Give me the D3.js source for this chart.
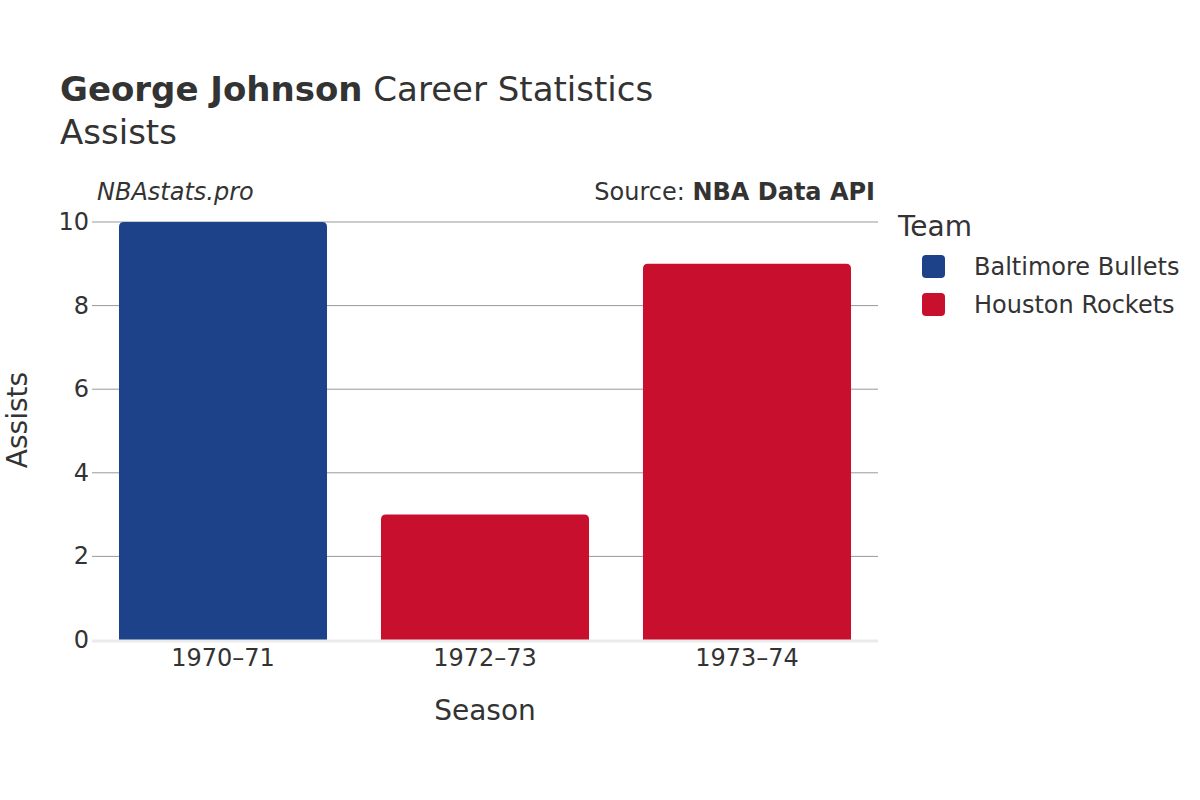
<!DOCTYPE html>
<html>
<head>
<meta charset="utf-8">
<script src="https://cdn.jsdelivr.net/npm/d3@7"></script>
<style>
  body { margin: 0; background: #fff; }
  svg { font-family: "DejaVu Sans", sans-serif; }
</style>
</head>
<body>
<svg id="chart" width="1200" height="800"></svg>
<script>
  // data
  var seasons = ["1970–71", "1972–73", "1973–74"];
  var assists = [10, 3, 9];
  var seasonTeams = ["Baltimore Bullets", "Houston Rockets", "Houston Rockets"];
  var teams = ["Baltimore Bullets", "Houston Rockets"];
  var teamColors = ["#1d428a", "#c8102e"];
  var yTicks = [0, 2, 4, 6, 8, 10];

  var svg = d3.select("#chart");
  var textColor = "#333";

  var margin = { left: 92, right: 878, top: 222, bottom: 640 };

  var x = d3.scaleBand()
    .domain(seasons)
    .range([margin.left, margin.right])
    .paddingInner(0.206)
    .paddingOuter(0.103);

  var y = d3.scaleLinear()
    .domain([0, 10])
    .range([margin.bottom, margin.top]);

  var color = d3.scaleOrdinal().domain(teams).range(teamColors);

  // gridlines
  svg.append("g")
    .selectAll("line")
    .data(yTicks.filter(function(d) { return d > 0; }))
    .enter()
    .append("line")
      .attr("x1", margin.left)
      .attr("x2", margin.right)
      .attr("y1", function(d) { return y(d); })
      .attr("y2", function(d) { return y(d); })
      .attr("stroke", "#999")
      .attr("stroke-width", 1);

  // bars with rounded tops
  function barPath(x0, w, yTop, yBot, r) {
    return "M" + x0 + "," + yBot +
      "V" + (yTop + r) +
      "Q" + x0 + "," + yTop + " " + (x0 + r) + "," + yTop +
      "H" + (x0 + w - r) +
      "Q" + (x0 + w) + "," + yTop + " " + (x0 + w) + "," + (yTop + r) +
      "V" + yBot + "Z";
  }

  svg.append("g")
    .selectAll("path")
    .data(seasons)
    .enter()
    .append("path")
      .attr("d", function(d, i) {
        return barPath(x(d), x.bandwidth(), y(assists[i]), y(0), 5);
      })
      .attr("fill", function(d, i) { return color(seasonTeams[i]); });

  // zero line
  svg.append("line")
    .attr("x1", margin.left)
    .attr("x2", margin.right)
    .attr("y1", y(0) + 1)
    .attr("y2", y(0) + 1)
    .attr("stroke", "#ebebeb")
    .attr("stroke-width", 3);

  // y axis labels
  svg.append("g")
    .selectAll("text")
    .data(yTicks)
    .enter()
    .append("text")
      .attr("x", 89)
      .attr("y", function(d) { return y(d) + 8; })
      .attr("text-anchor", "end")
      .attr("font-size", 24)
      .attr("fill", textColor)
      .text(function(d) { return d; });

  // x axis labels
  svg.append("g")
    .selectAll("text")
    .data(seasons)
    .enter()
    .append("text")
      .attr("x", function(d) { return x(d) + x.bandwidth() / 2; })
      .attr("y", 666)
      .attr("text-anchor", "middle")
      .attr("font-size", 24)
      .attr("fill", textColor)
      .text(function(d) { return d; });

  // axis titles
  svg.append("text")
    .attr("x", (margin.left + margin.right) / 2)
    .attr("y", 720)
    .attr("text-anchor", "middle")
    .attr("font-size", 28)
    .attr("fill", textColor)
    .text("Season");

  svg.append("text")
    .attr("transform", "translate(27,420) rotate(-90)")
    .attr("text-anchor", "middle")
    .attr("font-size", 28)
    .attr("fill", textColor)
    .text("Assists");

  // title
  var title = svg.append("text")
    .attr("x", 60)
    .attr("y", 101)
    .attr("font-size", 34)
    .attr("fill", textColor);
  title.append("tspan").attr("font-weight", "bold").text("George Johnson");
  title.append("tspan").text(" Career Statistics");

  svg.append("text")
    .attr("x", 60)
    .attr("y", 144)
    .attr("font-size", 34)
    .attr("fill", textColor)
    .text("Assists");

  // watermark + source
  svg.append("text")
    .attr("x", 97)
    .attr("y", 200)
    .attr("font-size", 24)
    .attr("font-style", "italic")
    .attr("fill", textColor)
    .text("NBAstats.pro");

  var src = svg.append("text")
    .attr("x", 875)
    .attr("y", 200)
    .attr("text-anchor", "end")
    .attr("font-size", 24)
    .attr("fill", textColor);
  src.append("tspan").text("Source: ");
  src.append("tspan").attr("font-weight", "bold").text("NBA Data API");

  // legend
  svg.append("text")
    .attr("x", 898)
    .attr("y", 236)
    .attr("font-size", 28)
    .attr("fill", textColor)
    .text("Team");

  var legend = svg.append("g")
    .selectAll("g")
    .data(teams)
    .enter()
    .append("g")
      .attr("transform", function(d, i) { return "translate(922," + (255 + i * 38) + ")"; });

  legend.append("rect")
    .attr("width", 23)
    .attr("height", 23)
    .attr("rx", 4)
    .attr("fill", function(d) { return color(d); });

  legend.append("text")
    .attr("x", 52)
    .attr("y", 20)
    .attr("font-size", 24)
    .attr("fill", textColor)
    .text(function(d) { return d; });
</script>
</body>
</html>
